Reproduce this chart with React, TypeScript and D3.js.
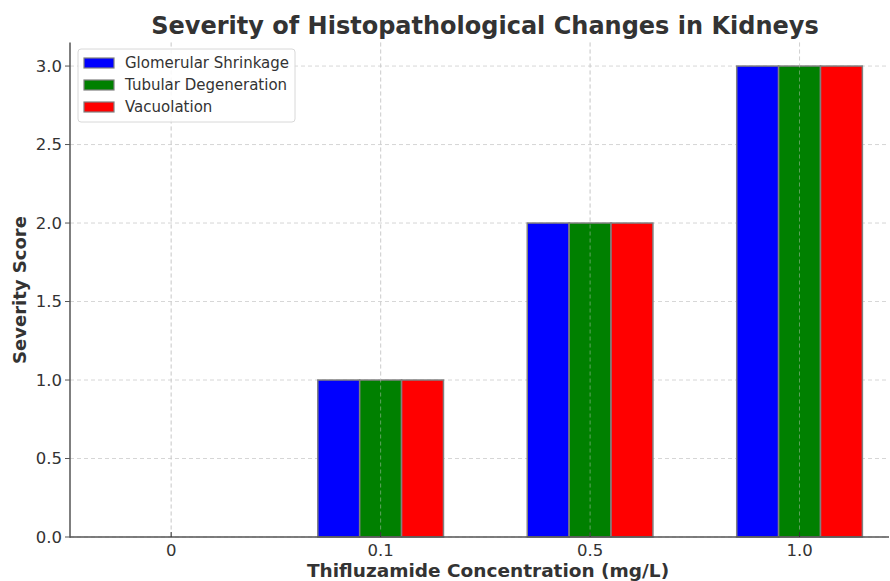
import React from "react";
import * as d3 from "d3";

const categories = ["0", "0.1", "0.5", "1.0"];
const seriesNames = ["Glomerular Shrinkage", "Tubular Degeneration", "Vacuolation"];
const glomerular = [0, 1, 2, 3];
const tubular = [0, 1, 2, 3];
const vacuolation = [0, 1, 2, 3];
const colors = ["#0000ff", "#008000", "#ff0000"];
const yTicks = [0, 0.5, 1.0, 1.5, 2.0, 2.5, 3.0];

const W = 890, H = 581;

export default function App() {
  const series = [glomerular, tubular, vacuolation];
  const x = d3.scaleLinear().domain([-0.483, 3.427]).range([70, 889]);
  const y = d3.scaleLinear().domain([0, 3.15]).range([537, 42.5]);
  const bw = 0.2;
  const textColor = "#333333";
  const font = "DejaVu Sans, sans-serif";
  return (
    <svg width={W} height={H} style={{ position: "absolute", left: 0, top: 0, background: "#fff" }} fontFamily={font}>
      {categories.map((c, i) => (
        <line key={"gx" + i} x1={x(i)} x2={x(i)} y1={y(3.15)} y2={y(0)} stroke="#cccccc" strokeDasharray="4,3" strokeWidth={0.8} />
      ))}
      {yTicks.map((t) => (
        <line key={"gy" + t} x1={70} x2={889} y1={y(t)} y2={y(t)} stroke="#cccccc" strokeDasharray="4,3" strokeWidth={0.8} />
      ))}
      {series.map((vals, s) =>
        vals.map((v, i) => {
          const x0 = x(i + (s - 1) * bw - bw / 2);
          const x1 = x(i + (s - 1) * bw + bw / 2);
          if (v <= 0) return null;
          return (
            <rect key={s + "-" + i} x={x0} y={y(v)} width={x1 - x0} height={y(0) - y(v)} fill={colors[s]} stroke="#808080" strokeWidth={1.5} />
          );
        })
      )}
      {categories.map((c, i) => (
        <line key={"gx2" + i} x1={x(i)} x2={x(i)} y1={y(3.15)} y2={y(0)} stroke="#cccccc" strokeDasharray="4,3" strokeWidth={0.8} opacity={0.6} />
      ))}
      <line x1={70} x2={70} y1={y(3.15)} y2={y(0) + 0.7} stroke="#555" strokeWidth={1.5} />
      <line x1={70} x2={889} y1={y(0)} y2={y(0)} stroke="#555" strokeWidth={1.5} />
      {yTicks.map((t) => (
        <g key={"yt" + t}>
          <line x1={65} x2={70} y1={y(t)} y2={y(t)} stroke="#555" strokeWidth={1} />
          <text x={62} y={y(t)} dy="0.36em" textAnchor="end" fontSize={16.5} fill={textColor}>{t.toFixed(1)}</text>
        </g>
      ))}
      {categories.map((c, i) => (
        <g key={"xt" + i}>
          <line x1={x(i)} x2={x(i)} y1={y(0) - 5} y2={y(0)} stroke="#333" strokeWidth={1} />
          <text x={x(i)} y={556} textAnchor="middle" fontSize={16.5} fill={textColor}>{c}</text>
        </g>
      ))}
      <text x={485} y={34} textAnchor="middle" fontSize={24} fontWeight="bold" fill={textColor}>Severity of Histopathological Changes in Kidneys</text>
      <text x={488} y={576.5} textAnchor="middle" fontSize={18.5} fontWeight="bold" fill={textColor}>Thifluzamide Concentration (mg/L)</text>
      <text transform={`translate(26,290) rotate(-90)`} textAnchor="middle" fontSize={18} fontWeight="bold" fill={textColor}>Severity Score</text>
      <rect x={78} y={49} width={217} height={73} rx={3} fill="#fff" fillOpacity={0.85} stroke="#d8d8d8" strokeWidth={1} />
      {seriesNames.map((n, k) => (
        <g key={n}>
          <rect x={84} y={58 + k * 22} width={30} height={10} fill={colors[k]} stroke="#808080" strokeWidth={1.2} />
          <text x={125} y={63 + k * 22} dy="0.35em" fontSize={15} fill={textColor}>{n}</text>
        </g>
      ))}
    </svg>
  );
}
